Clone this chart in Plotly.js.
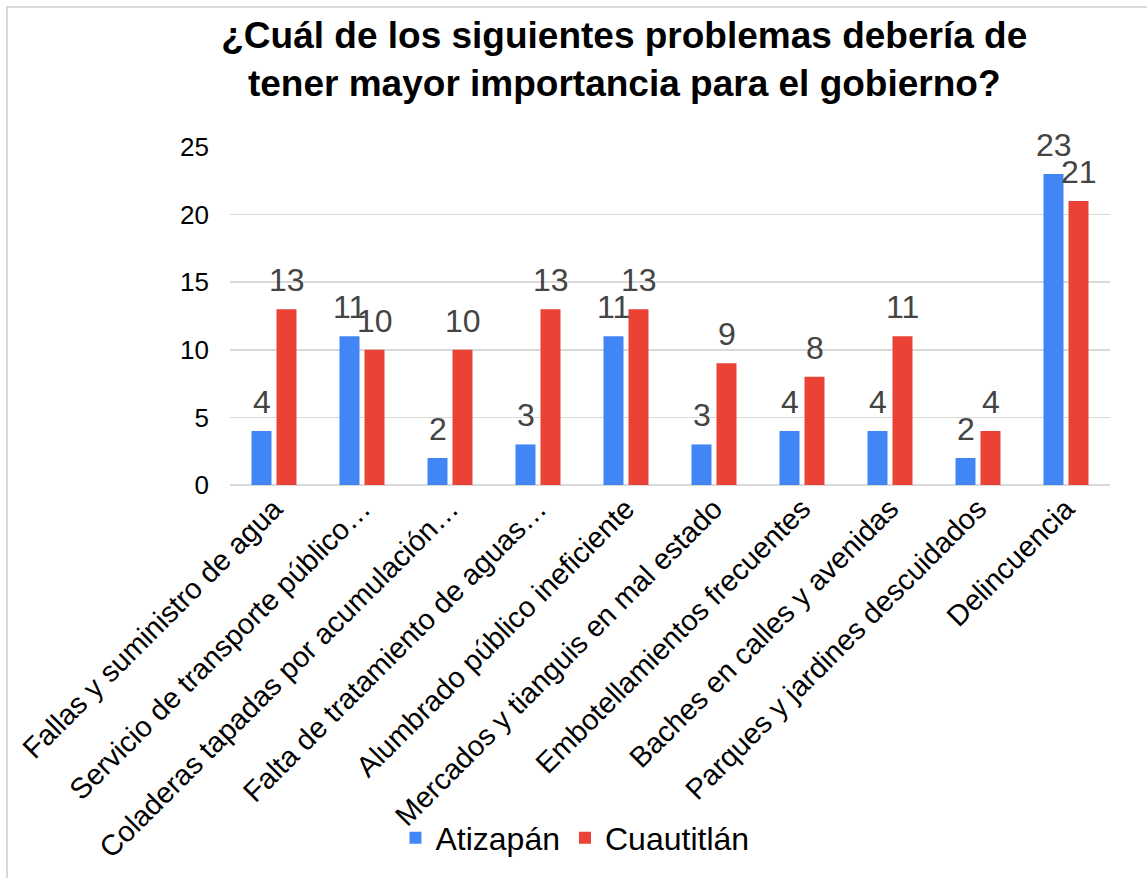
<!DOCTYPE html>
<html>
<head>
<meta charset="utf-8">
<script src="https://cdn.plot.ly/plotly-3.0.1.min.js"></script>
<style>
  html, body { margin: 0; padding: 0; background: #ffffff; }
  #chart { width: 1147px; height: 878px; }
</style>
</head>
<body>
<div id="chart"></div>
<script>
// Problem categories (x-axis tick labels)
const categories = [
  "Fallas y suministro de agua",
  "Servicio de transporte público…",
  "Coladeras tapadas por acumulación…",
  "Falta de tratamiento de aguas…",
  "Alumbrado público ineficiente",
  "Mercados y tianguis en mal estado",
  "Embotellamientos frecuentes",
  "Baches en calles y avenidas",
  "Parques y jardines descuidados",
  "Delincuencia"
];

// Responses per municipality
const atizapan   = [4, 11, 2, 3, 11, 3, 4, 4, 2, 23];
const cuautitlan = [13, 10, 10, 13, 13, 9, 8, 11, 4, 21];

const seriesNames = ["Atizapán", "Cuautitlán"];
const seriesColors = ["#4285F4", "#EA4335"];

const FONT = "Liberation Sans, Arial, Helvetica, sans-serif";

function barTrace(name, values, color) {
  return {
    type: "bar",
    name: name,
    x: categories,
    y: values,
    marker: { color: color },
    hoverinfo: "x+y+name"
  };
}

const data = [
  barTrace(seriesNames[0], atizapan, seriesColors[0]),
  barTrace(seriesNames[1], cuautitlan, seriesColors[1])
];

// Value labels above each bar, offset sideways to sit over its own bar in the group
function valueLabels(values, xshift) {
  return values.map((v, i) => ({
    xref: "x",
    yref: "y",
    x: categories[i],
    y: v,
    text: String(v),
    showarrow: false,
    xanchor: "center",
    yanchor: "bottom",
    xshift: xshift,
    yshift: 9,
    font: { family: FONT, size: 32, color: "#444444" }
  }));
}

const annotations = [].concat(
  valueLabels(atizapan, -12.5),
  valueLabels(cuautitlan, 12.5)
);

const layout = {
  width: 1147,
  height: 878,
  paper_bgcolor: "#ffffff",
  plot_bgcolor: "#ffffff",
  font: { family: FONT, color: "#000000" },
  margin: { l: 230, r: 37, t: 147, b: 393 },
  barmode: "group",
  bargap: 0.432,
  bargroupgap: 0.2,
  title: {
    text: "<b>¿Cuál de los siguientes problemas debería de<br>tener mayor importancia para el gobierno?</b>",
    font: { family: FONT, size: 37, color: "#000000" },
    xref: "paper",
    x: 0.448,
    xanchor: "center",
    yref: "container",
    y: 0.945,
    yanchor: "middle"
  },
  xaxis: {
    type: "category",
    tickangle: -45,
    tickfont: { family: FONT, size: 29, color: "#000000" },
    showline: false,
    showgrid: false,
    ticks: "",
    automargin: false
  },
  yaxis: {
    range: [0, 25],
    dtick: 5,
    tickfont: { family: FONT, size: 26, color: "#000000" },
    showgrid: true,
    gridcolor: "#d9d9d9",
    gridwidth: 1.5,
    zeroline: true,
    zerolinecolor: "#d9d9d9",
    zerolinewidth: 2,
    ticks: "",
    ticklabelstandoff: 20,
    automargin: false
  },
  annotations: annotations,
  showlegend: true,
  legend: {
    orientation: "h",
    xref: "paper",
    x: 0.392,
    xanchor: "center",
    yref: "paper",
    y: -1.044,
    yanchor: "middle",
    font: { family: FONT, size: 32, color: "#000000" },
    bgcolor: "rgba(0,0,0,0)",
    itemwidth: 30,
    traceorder: "normal"
  },
  shapes: [
    {
      type: "rect",
      xref: "paper",
      yref: "paper",
      x0: -0.2534,
      x1: 1.06,
      y0: -1.2,
      y1: 1.414,
      line: { color: "#d9d9d9", width: 2 },
      fillcolor: "rgba(0,0,0,0)",
      layer: "below"
    }
  ]
};

Plotly.newPlot("chart", data, layout, { displayModeBar: false, staticPlot: true });
</script>
</body>
</html>
